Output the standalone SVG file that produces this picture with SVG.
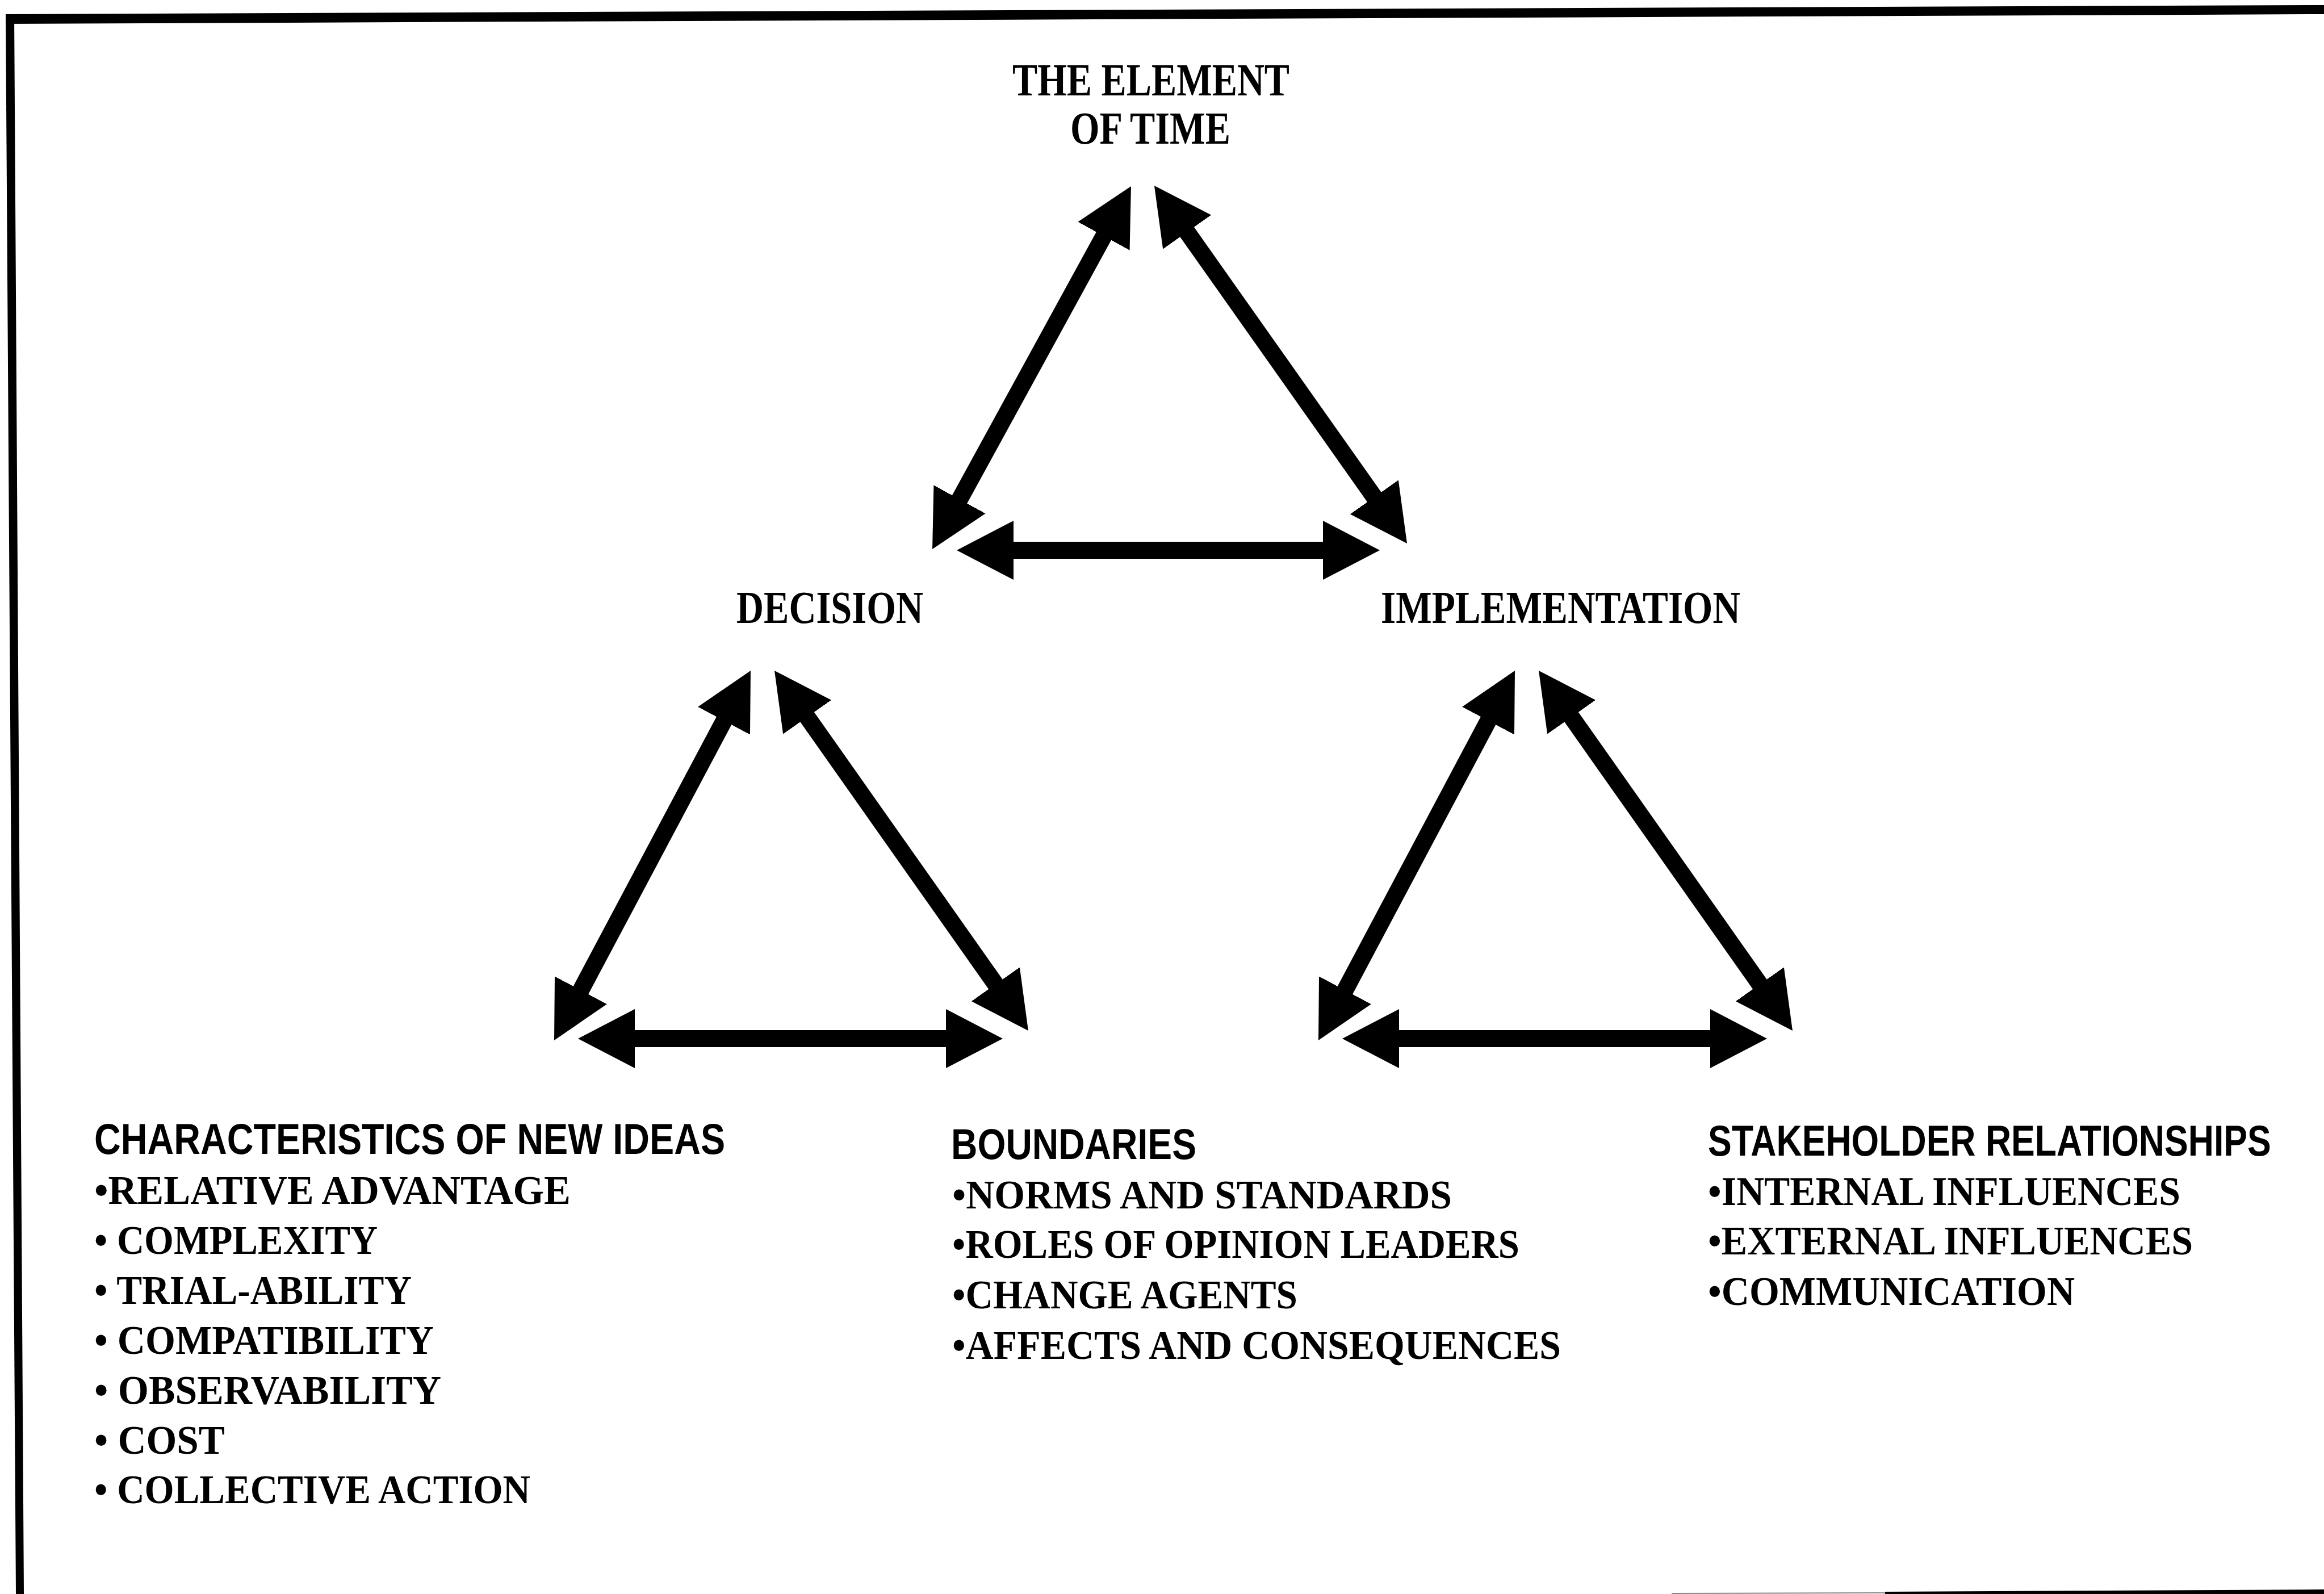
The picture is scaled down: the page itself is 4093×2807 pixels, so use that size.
<svg xmlns="http://www.w3.org/2000/svg" width="4093" height="2807" viewBox="0 0 4093 2807">
  <defs>
    <style>
      .node { font-family: "Liberation Serif", "Times New Roman", serif; font-weight: bold; font-size: 80px; fill: #000; }
      .head { font-family: "Liberation Sans", Arial, sans-serif; font-weight: bold; font-size: 76px; fill: #000; }
      .item { font-family: "Liberation Serif", "Times New Roman", serif; font-weight: bold; font-size: 72px; fill: #000; }
      .link { fill: none; stroke: #000; stroke-width: 30; marker-start: url(#head); marker-end: url(#head); }
    </style>
    <!-- solid triangular arrowhead, same at both ends of every link -->
    <marker id="head" viewBox="0 0 100 104" markerUnits="userSpaceOnUse" markerWidth="100" markerHeight="104" refX="2" refY="52" orient="auto-start-reverse">
      <path d="M0,0 L100,52 L0,104 Z" fill="#000"/>
    </marker>
  </defs>

  <rect width="4093" height="2807" fill="#fff"/>

  <!-- frame (slightly skewed, clipped at the bottom) -->
  <g id="frame" fill="#000">
    <polygon points="10,25 4093,9 4093,25 10,42"/>
    <polygon points="10,25 25,25 42,2807 28,2807"/>
    <line x1="2944" y1="2806" x2="3320" y2="2805" stroke="#888" stroke-width="2"/>
    <polygon points="3320,2803 4093,2799 4093,2807 3320,2807"/>
  </g>

  <!-- bidirectional links -->
  <g id="connectors">
    <!-- time / decision / implementation -->
    <path class="link" d="M1944.9,413.9 L1689.1,881.1"/>
    <path class="link" d="M2089.5,407 L2421.5,877"/>
    <path class="link" d="M1783,969 L2332,969"/>
    <!-- decision / characteristics / boundaries -->
    <path class="link" d="M1276,1267.5 L1022,1745.5"/>
    <path class="link" d="M1420.5,1261.1 L1754.5,1734.9"/>
    <path class="link" d="M1116,1829 L1668,1829"/>
    <!-- implementation / boundaries / stakeholders -->
    <path class="link" d="M2622,1267.5 L2368,1745.5"/>
    <path class="link" d="M2766.5,1261.1 L3100.5,1734.9"/>
    <path class="link" d="M2462,1829 L3014,1829"/>
  </g>

  <g id="time">
    <text class="node" x="1783" y="168" textLength="488" lengthAdjust="spacingAndGlyphs">THE ELEMENT</text>
    <text class="node" x="1885" y="253" textLength="282" lengthAdjust="spacingAndGlyphs">OF TIME</text>
  </g>

  <g id="decision">
    <text class="node" x="1297" y="1097" textLength="329" lengthAdjust="spacingAndGlyphs">DECISION</text>
  </g>

  <g id="implementation">
    <text class="node" x="2432" y="1097" textLength="633" lengthAdjust="spacingAndGlyphs">IMPLEMENTATION</text>
  </g>

  <g id="characteristics">
    <text class="head" transform="translate(166,2032) scale(0.8,1)" textLength="1389" lengthAdjust="spacingAndGlyphs">CHARACTERISTICS OF NEW IDEAS</text>
    <text class="item" x="166" y="2120" textLength="839" lengthAdjust="spacingAndGlyphs">•RELATIVE ADVANTAGE</text>
    <text class="item" x="166" y="2208" textLength="499" lengthAdjust="spacingAndGlyphs">• COMPLEXITY</text>
    <text class="item" x="166" y="2296" textLength="559" lengthAdjust="spacingAndGlyphs">• TRIAL-ABILITY</text>
    <text class="item" x="166" y="2384" textLength="598" lengthAdjust="spacingAndGlyphs">• COMPATIBILITY</text>
    <text class="item" x="166" y="2472" textLength="611" lengthAdjust="spacingAndGlyphs">• OBSERVABILITY</text>
    <text class="item" x="166" y="2560" textLength="230" lengthAdjust="spacingAndGlyphs">• COST</text>
    <text class="item" x="166" y="2647" textLength="768" lengthAdjust="spacingAndGlyphs">• COLLECTIVE ACTION</text>
  </g>

  <g id="boundaries">
    <text class="head" transform="translate(1675,2041) scale(0.8,1)" textLength="540" lengthAdjust="spacingAndGlyphs">BOUNDARIES</text>
    <text class="item" x="1677" y="2128" textLength="880" lengthAdjust="spacingAndGlyphs">•NORMS AND STANDARDS</text>
    <text class="item" x="1677" y="2215" textLength="999" lengthAdjust="spacingAndGlyphs">•ROLES OF OPINION LEADERS</text>
    <text class="item" x="1677" y="2304" textLength="608" lengthAdjust="spacingAndGlyphs">•CHANGE AGENTS</text>
    <text class="item" x="1677" y="2393" textLength="1072" lengthAdjust="spacingAndGlyphs">•AFFECTS AND CONSEQUENCES</text>
  </g>

  <g id="stakeholders">
    <text class="head" transform="translate(3008,2035) scale(0.77,1)" textLength="1288" lengthAdjust="spacingAndGlyphs">STAKEHOLDER RELATIONSHIPS</text>
    <text class="item" x="3008" y="2122" textLength="832" lengthAdjust="spacingAndGlyphs">•INTERNAL INFLUENCES</text>
    <text class="item" x="3008" y="2209" textLength="854" lengthAdjust="spacingAndGlyphs">•EXTERNAL INFLUENCES</text>
    <text class="item" x="3008" y="2298" textLength="646" lengthAdjust="spacingAndGlyphs">•COMMUNICATION</text>
  </g>
</svg>
